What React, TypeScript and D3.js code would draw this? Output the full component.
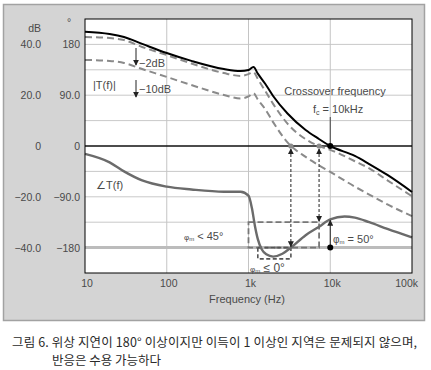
import React from "react";
import * as d3 from "d3";

// magnitude curves (Hz / dB)
const magFreqs = [10, 20, 30, 50, 100, 200, 500, 800, 1000, 1150, 1300, 1600, 2000, 3000, 5000, 7000, 10000, 20000, 30000, 50000, 100000];
const magT = [45, 44.1, 42.9, 40.2, 36.6, 33.5, 30.3, 29.5, 29.9, 31.1, 28.5, 24.5, 19.7, 12.8, 6.3, 3.1, 0, -3.9, -7.1, -11.4, -18.1];
const magMinus2 = [42.9, 42.5, 41.7, 39, 35.8, 32.5, 28.7, 27.6, 28.3, 29.1, 26.4, 21.7, 16.6, 8.8, 2.7, 0.2, -1.5, -6, -8.8, -13.5, -19.8];
const magMinus10 = [33.9, 33.5, 32.7, 30.3, 27.2, 24, 20.1, 18.7, 19.5, 20.8, 18.3, 14.5, 9.4, 1.4, -4.3, -7.3, -10.2, -16, -19.1, -23, -27.6];

// phase curve (Hz / degrees)
const phaseFreqs = [10, 20, 30, 50, 100, 200, 500, 800, 1000, 1100, 1200, 1300, 1450, 1650, 2000, 2600, 3300, 5000, 7300, 10000, 15000, 20000, 30000, 50000, 100000];
const phaseT = [-14, -29, -45, -61, -72, -77, -81, -81, -88, -110, -142, -165, -183, -192, -196, -191, -180, -158, -143, -130, -125, -127, -135, -147, -162];

// axes
const freqTicks = [10, 100, 1000, 10000, 100000];
const freqLabels = ["10", "100", "1k", "10k", "100k"];
const dbTicks = [40, 20, 0, -20, -40];
const dbLabels = ["40.0", "20.0", "0", "\u221220.0", "\u221240.0"];
const degLabels = ["180", "90.0", "0", "\u221290.0", "\u2212180"];
const gridDb = [-40, -30, -20, -10, 10, 20, 30, 40];
const gridFreqs = [100, 1000, 10000];

// marked frequencies / angles
const fc = 10000;
const fcMinus2 = 7300;
const fcMinus10 = 3300;
const phaseAtFc = -130;
const boxStart = 1000;
const smallBoxStart = 1300;
const pmLimit = -135;
const smallBoxBottom = -200;

const W = 431;
const H = 370;
const left = 85, right = 412, top = 19, bottom = 273;

const x = d3.scaleLog().domain([10, 100000]).range([left, right]);
const y = d3.scaleLinear().domain([-50, 50]).range([bottom, top]);
const yDeg = d3.scaleLinear().domain([-225, 225]).range([bottom, top]);

const magLine = d3
  .line<[number, number]>()
  .x((d) => x(d[0]))
  .y((d) => y(d[1]))
  .curve(d3.curveMonotoneX);
const phaseLine = d3
  .line<[number, number]>()
  .x((d) => x(d[0]))
  .y((d) => yDeg(d[1]))
  .curve(d3.curveMonotoneX);

const zip = (f: number[], v: number[]) => f.map((d, i) => [d, v[i]] as [number, number]);

const FONT = "'Liberation Sans', Arial, sans-serif";
const TXT = "#4a4a4a";

export default function App() {
  const y0 = y(0);
  const y180 = yDeg(-180);
  return (
    <svg
      width={W}
      height={H}
      style={{ position: "absolute", left: 0, top: 0, background: "#fff" }}
      fontFamily={FONT}
    >
      <defs>
        <marker id="ah" viewBox="0 0 8 8" refX="7" refY="4" markerWidth="6" markerHeight="6" orient="auto-start-reverse" markerUnits="userSpaceOnUse">
          <path d="M0,0 L8,4 L0,8 z" fill="#222" />
        </marker>
      </defs>

      {/* gray panel */}
      <rect x={3.5} y={4.5} width={421} height={316} fill="#d4d4d4" stroke="#a2a2a2" strokeWidth={1.5} />
      <rect x={left} y={top} width={right - left} height={bottom - top} fill="#fff" />

      {/* grid */}
      {gridDb.map((d) => (
        <line key={"gy" + d} x1={left} x2={right} y1={y(d)} y2={y(d)} stroke="#c9c9c9" strokeWidth={1} />
      ))}
      {gridFreqs.map((f) => (
        <line key={"gx" + f} x1={x(f)} x2={x(f)} y1={top} y2={bottom} stroke="#c4c4c4" strokeWidth={1} />
      ))}
      <line x1={left} x2={right} y1={y180} y2={y180} stroke="#bcbcbc" strokeWidth={3} />
      <line x1={left} x2={right} y1={y0} y2={y0} stroke="#111" strokeWidth={1.3} />

      {/* phase margin boxes */}
      <rect x={x(boxStart)} y={yDeg(pmLimit)} width={x(fcMinus2) - x(boxStart)} height={y180 - yDeg(pmLimit)} fill="none" stroke="#777" strokeWidth={1.8} strokeDasharray="6,3" />
      <rect x={x(smallBoxStart)} y={y180} width={x(fcMinus10) - x(smallBoxStart)} height={yDeg(smallBoxBottom) - y180} fill="none" stroke="#555" strokeWidth={1.6} strokeDasharray="4,2.5" />

      {/* curves */}
      <path d={magLine(zip(magFreqs, magMinus10)) || ""} fill="none" stroke="#8a8a8a" strokeWidth={2} strokeDasharray="7,4" />
      <path d={magLine(zip(magFreqs, magMinus2)) || ""} fill="none" stroke="#8a8a8a" strokeWidth={2} strokeDasharray="7,4" />
      <path d={magLine(zip(magFreqs, magT)) || ""} fill="none" stroke="#000" strokeWidth={2} />
      <path d={phaseLine(zip(phaseFreqs, phaseT)) || ""} fill="none" stroke="#6b6b6b" strokeWidth={2.4} />

      {/* dotted arrows from the crossover points */}
      <line x1={x(fcMinus10)} x2={x(fcMinus10)} y1={y0 + 3} y2={y180 - 1} stroke="#222" strokeWidth={1} strokeDasharray="3,2" markerStart="url(#ah)" markerEnd="url(#ah)" />
      <line x1={x(fcMinus2)} x2={x(fcMinus2)} y1={y0 + 3} y2={yDeg(pmLimit) - 1} stroke="#222" strokeWidth={1} strokeDasharray="3,2" markerStart="url(#ah)" markerEnd="url(#ah)" />
      <line x1={x(fc)} x2={x(fc)} y1={117} y2={y0} stroke="#444" strokeWidth={1} />
      <line x1={x(fc)} x2={x(fc)} y1={y180} y2={yDeg(phaseAtFc) + 1} stroke="#222" strokeWidth={1} markerEnd="url(#ah)" />
      <circle cx={x(fcMinus10)} cy={y0} r={2.6} fill="#8a8a8a" />
      <circle cx={x(fcMinus2)} cy={y0} r={2.6} fill="#8a8a8a" />
      <circle cx={x(fc)} cy={y0} r={3} fill="#000" />
      <circle cx={x(fc)} cy={y180} r={3} fill="#000" />

      {/* -2dB / -10dB arrows */}
      <line x1={136} x2={136} y1={48} y2={65} stroke="#222" strokeWidth={1} markerEnd="url(#ah)" />
      <line x1={136} x2={136} y1={80} y2={97} stroke="#222" strokeWidth={1} markerEnd="url(#ah)" />

      <rect x={left} y={top} width={right - left} height={bottom - top} fill="none" stroke="#000" strokeWidth={1} />

      {/* annotations */}
      <g fill={TXT} fontSize={11}>
        <text x={139} y={67}>{"\u22122dB"}</text>
        <text x={139} y={93}>{"\u221210dB"}</text>
        <text x={93} y={89}>|T(f)|</text>
        <text x={96} y={189}>{"\u2220T(f)"}</text>
        <text x={335} y={95} textAnchor="middle">Crossover frequency</text>
        <text x={313} y={113}>
          f<tspan fontSize={7} dy={2}>c</tspan>
          <tspan dy={-2}>{" = 10kHz"}</tspan>
        </text>
        <text x={184} y={240}>
          <tspan fontSize={8}>φ</tspan>
          <tspan fontSize={6} dy={1}>m</tspan>
          <tspan dy={-1}>{" < 45°"}</tspan>
        </text>
        <text x={250} y={272}>
          <tspan fontSize={8}>φ</tspan>
          <tspan fontSize={6} dy={1}>m</tspan>
          <tspan dy={-1} fontSize={12}>{" ≤ 0°"}</tspan>
        </text>
        <text x={333} y={243}>
          <tspan fontSize={10}>φ</tspan>
          <tspan fontSize={6} dy={1}>m</tspan>
          <tspan dy={-1}>{" = 50°"}</tspan>
        </text>
      </g>

      {/* axis labels */}
      <g fill={TXT} fontSize={10.5}>
        <text x={41} y={32} textAnchor="end">dB</text>
        <text x={69} y={26} textAnchor="middle">°</text>
        {dbTicks.map((d, i) => (
          <text key={"db" + d} x={41} y={y(d) + 4} textAnchor="end">{dbLabels[i]}</text>
        ))}
        {dbTicks.map((d, i) => (
          <text key={"dg" + d} x={80} y={y(d) + 4} textAnchor="end">{degLabels[i]}</text>
        ))}
        {freqTicks.map((f, i) => (
          <text
            key={"f" + f}
            x={i === freqTicks.length - 1 ? 418 : x(f) + 2}
            y={287}
            textAnchor={i === freqTicks.length - 1 ? "end" : "middle"}
          >
            {freqLabels[i]}
          </text>
        ))}
        <text x={247} y={303} textAnchor="middle" fontSize={11}>Frequency (Hz)</text>
      </g>

      {/* caption */}
      <g fill="#2a2a2a" fontSize={12.5} fontFamily="'Noto Sans CJK KR', sans-serif">
        <text x={12} y={347} textLength={405} lengthAdjust="spacing">그림 6. 위상 지연이 180° 이상이지만 이득이 1 이상인 지역은 문제되지 않으며,</text>
        <text x={52} y={365}>반응은 수용 가능하다</text>
      </g>
    </svg>
  );
}
